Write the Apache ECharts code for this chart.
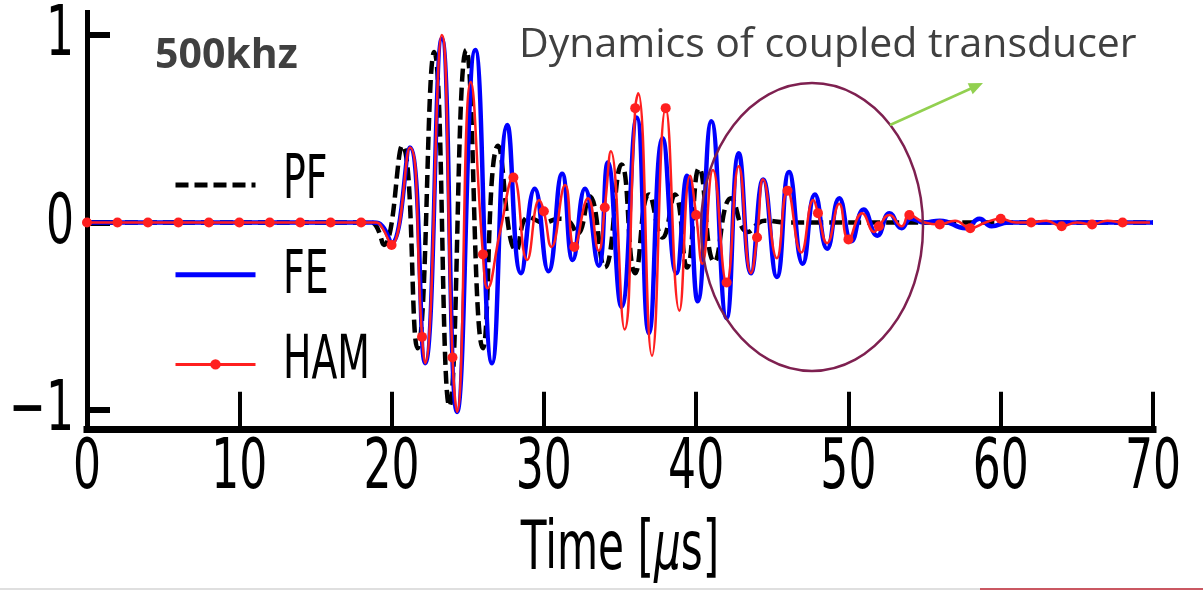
<!DOCTYPE html>
<html><head><meta charset="utf-8">
<script src="https://cdn.jsdelivr.net/npm/echarts@6/dist/echarts.min.js"></script>
<style>html,body{margin:0;padding:0;background:#fff}#c{width:1203px;height:590px}</style>
</head><body><div id="c"></div>
<script>
// ---- data ----
const xTicks = [0, 10, 20, 30, 40, 50, 60, 70];
const yTicks = [-1, 0, 1];
const yTickLabels = ['\u22121', '0', '1'];
const seriesNames = ['PF', 'FE', 'HAM'];
const chartTitle = '500khz';
const annotationText = 'Dynamics of coupled transducer';
const xAxisTitle = 'Time [';
const xAxisUnit = '\u03bc';
const xAxisTitleEnd = 's]';

const pfData = [
  [0, 0.0], [18.6, 0.0], [19.0, -0.02], [19.5, -0.12], [20.7, 0.41], [21.7, -0.67], [22.8, 0.91],
  [23.8, -0.98], [24.9, 0.92], [26.0, -0.67], [27.0, 0.41], [28.2, -0.15], [29.0, 0.03],
  [30.0, 0.0], [31.0, 0.02], [31.6, 0.01], [32.2, -0.06], [33.0, 0.14], [34.0, -0.24],
  [35.1, 0.31], [36.0, -0.27], [36.9, 0.15], [37.8, -0.08], [38.6, 0.15], [39.4, -0.24],
  [40.2, 0.29], [41.2, -0.21], [42.3, 0.13], [43.4, -0.05], [44.5, 0.01], [46.0, 0.0], [70, 0.0]
];

const feData = [
  [0, 0.0], [18.8, 0.0], [19.4, -0.02], [20.0, -0.11], [21.2, 0.40], [22.2, -0.75], [23.3, 0.98],
  [24.3, -1.01], [25.5, 0.92], [26.6, -0.75], [27.6, 0.52], [28.5, -0.27], [29.4, 0.18],
  [30.3, -0.26], [31.2, 0.26], [31.9, -0.20], [32.7, 0.18], [33.6, -0.23], [34.2, 0.32],
  [35.1, -0.45], [36.1, 0.56], [36.9, -0.59], [37.8, 0.45], [38.7, -0.27], [39.4, 0.25],
  [40.1, -0.42], [41.0, 0.54], [42.0, -0.51], [42.8, 0.37], [43.6, -0.27], [44.4, 0.23],
  [45.3, -0.29], [46.1, 0.27], [47.0, -0.22], [47.8, 0.15], [48.6, -0.14], [49.4, 0.13],
  [50.2, -0.10], [51.0, 0.07], [51.9, -0.07], [52.7, 0.05], [53.5, -0.03], [54.1, 0.02],
  [55.0, 0.0], [56.0, 0.01], [57.7, -0.03], [58.6, 0.02], [59.4, -0.02], [60.5, 0.0], [70, 0.0]
];

const hamData = [
  [0, 0.0], [2, 0.0], [4, 0.0], [6, 0.0], [8, 0.0], [10, 0.0], [12, 0.0], [14, 0.0], [16, 0.0], [18, 0.0],
  [19.0, 0.0], [19.4, -0.03], [20, -0.12], [21.2, 0.40], [22, -0.61], [22.2, -0.75], [23.3, 1.00],
  [24, -0.72], [24.3, -1.01], [25.2, 0.75], [26, -0.17], [26.3, -0.35], [27.1, -0.06], [28, 0.24],
  [28.9, -0.20], [29.7, 0.12], [30, 0.06], [30.5, -0.13], [31.4, 0.20], [32, -0.13], [32.9, 0.13],
  [33.6, -0.15], [34, 0.08], [34.4, 0.38], [35.3, -0.57], [36, 0.61], [36.2, 0.69], [37.1, -0.71],
  [38, 0.61], [38.9, -0.47], [39.6, 0.25], [40, 0.04], [40.4, -0.22], [41.1, 0.28], [42, -0.32],
  [42.8, 0.30], [43.6, -0.27], [44, -0.08], [44.4, 0.23], [45.3, -0.19], [46, 0.17], [46.9, -0.16],
  [47.7, 0.12], [48, 0.05], [48.6, -0.11], [49.4, 0.10], [50, -0.09], [50.9, 0.05], [51.7, -0.05],
  [52, -0.02], [52.7, 0.04], [53.5, -0.02], [54, 0.04], [55, 0.0], [56, -0.01], [57, 0.01],
  [58, -0.03], [59, 0.0], [60, 0.02], [61, 0.0], [62, 0.0], [63, 0.01], [64, -0.02], [65, 0.0],
  [66, -0.01], [67, 0.01], [68, 0.0], [69, 0.0], [69.8, 0.0]
];
// HAM markers are drawn at every 2 us sample
const hamMarkerStep = 2;

// ---- chart ----
const chart = echarts.init(document.getElementById('c'), null, { renderer: 'canvas' });
const LABEL_FONT = 'DejaVu Sans';
const SQUEEZE = 0.63;
const RED = '#ff1f1f';
const PF_DASH = [13, 6];

chart.setOption({
  animation: false,
  backgroundColor: '#ffffff',
  grid: { left: 87, right: 50, top: 12.5, bottom: 161.25, containLabel: false },
  xAxis: {
    type: 'value', min: 0, max: 70, interval: 10,
    axisLine: { onZero: false, lineStyle: { color: '#000', width: 7, cap: 'square' } },
    axisTick: { inside: true, length: 37, lineStyle: { color: '#000', width: 4 } },
    axisLabel: { show: false },
    splitLine: { show: false }
  },
  yAxis: {
    type: 'value', min: -1.1, max: 1.12,
    axisLine: { show: true, onZero: false, lineStyle: { color: '#000', width: 5, cap: 'square' } },
    axisTick: { show: true, inside: true, length: 23, customValues: yTicks, lineStyle: { color: '#000', width: 6 } },
    axisLabel: { show: false, customValues: yTicks },
    splitLine: { show: false }
  },
  legend: {
    data: [
      { name: seriesNames[0], itemStyle: { opacity: 0, borderWidth: 0 }, lineStyle: { width: 5, type: PF_DASH, color: '#000' } },
      { name: seriesNames[1], itemStyle: { opacity: 0, borderWidth: 0 }, lineStyle: { width: 5, color: '#0000ff' } },
      { name: seriesNames[2], lineStyle: { width: 3, color: RED } }
    ],
    orient: 'vertical', left: 168, top: 173.5,
    itemWidth: 80, itemHeight: 13, itemGap: 78, selectedMode: false,
    formatter: function () { return ''; }, textStyle: { fontSize: 10 }
  },
  series: [
    { name: seriesNames[0], type: 'line', data: pfData, smooth: true, symbol: 'none',
      lineStyle: { color: '#000', width: 4.5, type: PF_DASH }, itemStyle: { color: '#000' },
      emphasis: { disabled: true }, z: 2 },
    { name: seriesNames[1], type: 'line', data: feData, smooth: true, symbol: 'none',
      lineStyle: { color: '#0000ff', width: 4.5 }, itemStyle: { color: '#0000ff' },
      emphasis: { disabled: true }, z: 3 },
    { name: seriesNames[2], type: 'line', data: hamData, smooth: true, symbol: 'circle',
      symbolSize: function (v) { return (v[0] % hamMarkerStep === 0) ? 10 : 0; },
      lineStyle: { color: RED, width: 2.5 }, itemStyle: { color: RED },
      emphasis: { disabled: true }, z: 4 }
  ]
});

// ---- axis / legend texts (squeezed horizontally like the reference) ----
const g = [];
function sq(text, x, y, size, align, extra) {
  g.push({
    type: 'text', x: x, y: y, scaleX: SQUEEZE, z: 50,
    style: Object.assign({ text: text, fontSize: size, fontFamily: LABEL_FONT, fill: '#000',
      align: align, verticalAlign: 'middle' }, extra || {})
  });
}
xTicks.forEach(function (v) {
  const px = chart.convertToPixel({ xAxisIndex: 0 }, v);
  sq(String(v), px, 470, 70, 'center');
});
yTicks.forEach(function (v, i) {
  const py = chart.convertToPixel({ yAxisIndex: 0 }, v);
  sq(yTickLabels[i], 74, py + 2, 70, 'right');
});
sq(seriesNames[0], 283, 182, 60, 'left');
sq(seriesNames[1], 283, 277, 60, 'left');
sq(seriesNames[2], 283, 362, 60, 'left');
sq(xAxisTitle + '{it|' + xAxisUnit + '}' + xAxisTitleEnd, 620, 552, 67, 'center', {
  rich: { it: { fontStyle: 'italic', fontSize: 67, fontFamily: LABEL_FONT, fill: '#000' } }
});

// ---- slide annotations ----
g.push({ type: 'text', x: 155, y: 56, z: 50,
  style: { text: chartTitle, fontSize: 41, fontWeight: 'bold', fontFamily: 'Open Sans', fill: '#404040', align: 'left', verticalAlign: 'middle' } });
g.push({ type: 'text', x: 519, y: 45, z: 50,
  style: { text: annotationText, fontSize: 41, fontFamily: 'Open Sans', fill: '#404040', align: 'left', verticalAlign: 'middle' } });
g.push({ type: 'ellipse', z: 60, shape: { cx: 812, cy: 227, rx: 111, ry: 144 },
  style: { fill: 'none', stroke: '#7e2050', lineWidth: 2.5 } });
g.push({ type: 'line', z: 60, shape: { x1: 890, y1: 125, x2: 971, y2: 88.5 },
  style: { stroke: '#92d050', lineWidth: 2.5 } });
g.push({ type: 'polygon', z: 60, shape: { points: [[983, 83], [972.7, 94.2], [967.7, 83.3]] },
  style: { fill: '#92d050' } });
g.push({ type: 'line', z: 60, shape: { x1: 0, y1: 589, x2: 980, y2: 589 }, style: { stroke: '#d4d4d4', lineWidth: 1.5 } });
g.push({ type: 'line', z: 60, shape: { x1: 980, y1: 589, x2: 1203, y2: 589 }, style: { stroke: '#b8202e', lineWidth: 1.5 } });

chart.setOption({ graphic: g });
</script>
</body></html>
